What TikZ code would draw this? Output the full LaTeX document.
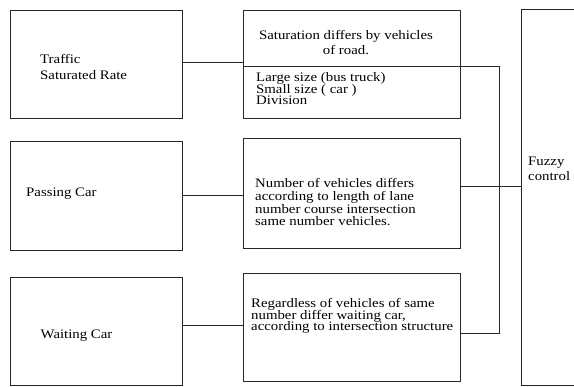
\documentclass[tikz,border=0pt]{standalone}
\usepackage{fontspec}
\setmainfont{Liberation Serif}[FakeStretch=1.14]
% tight line spacing without TeX's extra \lineskip
\newcommand{\tightlines}[1]{\fontsize{13}{#1}\selectfont\lineskiplimit=-20pt\lineskip=0pt}
\begin{document}
\begin{tikzpicture}[x=1pt,y=-1pt,
  box/.style={draw=black!85,line width=0.9pt,inner sep=0pt},
  wire/.style={draw=black!85,line width=0.9pt},
  txt/.style={inner sep=0pt,anchor=base west,align=left,
    font=\tightlines{12}},
  ctxt/.style={inner sep=0pt,anchor=base,align=center,
    font=\tightlines{12}}]
\useasboundingbox (0,0) rectangle (574,387);

% left column: inputs
\node[box,minimum width=172pt,minimum height=108pt] (A) at (96,64) {};
\node[box,minimum width=172pt,minimum height=109pt] (B) at (96,195.5) {};
\node[box,minimum width=172pt,minimum height=108pt] (C) at (96,331) {};

% middle column: descriptions
\node[box,minimum width=217pt,minimum height=108pt] (M1) at (351.5,64) {};
\node[box,minimum width=217pt,minimum height=110pt] (M2) at (351.5,193) {};
\node[box,minimum width=217pt,minimum height=108pt] (M3) at (351.5,327) {};

% right column: fuzzy controller (open towards the right)
\node[inner sep=0pt,minimum width=52pt,minimum height=375pt] (F) at (548,197.5) {};
\draw[wire] (F.north east) -- (F.north west) -- (F.south west) -- (F.south east);

% junction of the collector line
\coordinate (jn) at (499,66);

% texts (anchored at the baseline of their last line)
\node[txt,font=\tightlines{16}] (tA) at (40,80) {Traffic\\Saturated Rate};
\node[txt] (tB) at (26,197) {Passing Car};
\node[txt] (tC) at (40.5,339) {Waiting Car};
\node[ctxt,font=\tightlines{15}] (tM1a) at (346,55) {Saturation differs by vehicles\\of road.};
\node[txt,font=\tightlines{11.5}] (tM1b) at (256,105) {Large size (bus truck)\\Small size ( car )\\Division};
\node[txt,font=\tightlines{12.7}] (tM2) at (255,226) {Number of vehicles differs\\according to length of lane\\number course intersection\\same number vehicles.};
\node[txt,font=\tightlines{11.5}] (tM3) at (251,331) {Regardless of vehicles of same\\number differ waiting car,\\according to intersection structure};
\node[txt,font=\tightlines{15}] (tF) at (528,181) {Fuzzy\\control};

% connectors
\draw[wire] ([yshift=2pt]A.east) -- ([yshift=2pt]A.east -| M1.west);
\draw[wire] (B.east) -- (B.east -| M2.west);
\draw[wire] ([yshift=6pt]C.east) -- ([yshift=6pt]C.east -| M3.west);
\draw[wire] ([yshift=7pt]M2.east) -- ([yshift=7pt]M2.east -| F.west);
\draw[wire] (M1.west |- jn) -- (jn) |- ([yshift=-6pt]M3.east);
\end{tikzpicture}
\end{document}
